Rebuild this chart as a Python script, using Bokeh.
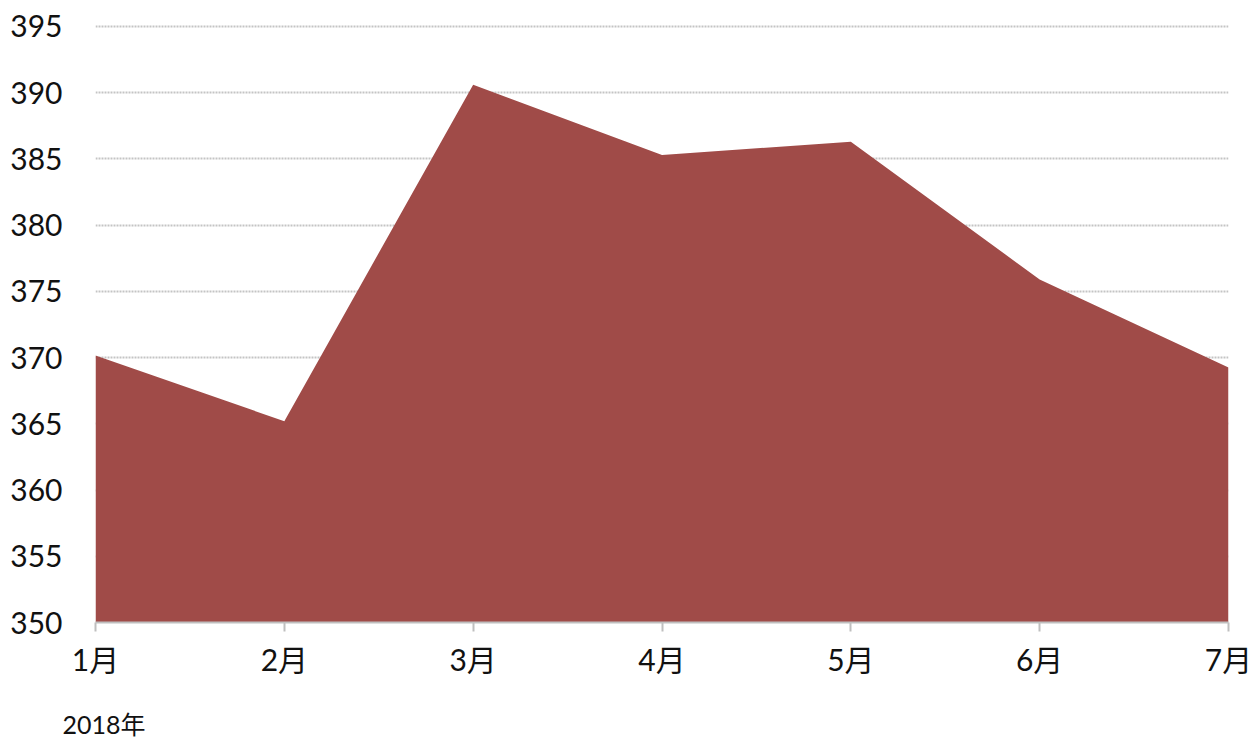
from bokeh.plotting import figure
from bokeh.models import Range1d, FixedTicker, LinearAxis
from bokeh.embed import file_html
from bokeh.resources import INLINE

# Monthly series, 2018
months = ["1月", "2月", "3月", "4月", "5月", "6月", "7月"]
values = [370.15, 365.2, 390.6, 385.3, 386.3, 375.9, 369.25]
y_ticks = [350, 355, 360, 365, 370, 375, 380, 385, 390, 395]
year_label = "2018年"

FONT = "Lato, 'Noto Sans CJK SC', sans-serif"
FILL = "#A04B48"

xs = list(range(len(months)))

p = figure(
    width=1254, height=741,
    x_range=Range1d(0, len(months) - 1),
    # a little headroom so the top grid line stays inside the frame
    y_range=Range1d(y_ticks[0], y_ticks[-1] + 0.15),
    output_backend="svg", toolbar_location=None,
    min_border_left=95, min_border_right=26,
    min_border_top=24, min_border_bottom=119,
)
p.outline_line_color = None
p.background_fill_color = "white"
p.border_fill_color = "white"

# filled area from the baseline up to the series
p.varea(x=xs, y1=y_ticks[0], y2=values, fill_color=FILL, fill_alpha=1.0)

# x axis: month labels
xa = p.xaxis[0]
xa.ticker = FixedTicker(ticks=xs)
xa.major_label_overrides = {i: m for i, m in enumerate(months)}
xa.axis_line_color = "#bfbfbf"
xa.axis_line_width = 2
xa.major_tick_line_color = "#bfbfbf"
xa.major_tick_line_width = 2
xa.major_tick_out = 9
xa.major_tick_in = 0
xa.minor_tick_line_color = None
xa.major_label_text_font = FONT
xa.major_label_text_font_size = "30px"
xa.major_label_text_color = "#111111"
xa.major_label_standoff = 9

# second, bare axis underneath carrying the year note at the bottom left
year_pos = 0.045
year_axis = LinearAxis(
    ticker=FixedTicker(ticks=[year_pos]),
    major_label_overrides={year_pos: year_label},
    axis_line_color=None, major_tick_line_color=None,
    minor_tick_line_color=None, major_tick_out=0, major_tick_in=0,
    major_label_text_font=FONT, major_label_text_font_size="25px",
    major_label_text_color="#111111", major_label_standoff=29,
)
p.add_layout(year_axis, "below")

# y axis: labels only
ya = p.yaxis[0]
ya.ticker = FixedTicker(ticks=y_ticks)
ya.axis_line_color = None
ya.major_tick_line_color = None
ya.minor_tick_line_color = None
ya.major_label_text_font = FONT
ya.major_label_text_font_size = "30px"
ya.major_label_text_color = "#111111"
ya.major_label_standoff = 27

# dotted horizontal grid
p.xgrid.grid_line_color = None
p.ygrid.ticker = FixedTicker(ticks=y_ticks)
p.ygrid.grid_line_color = "#c4c4c4"
p.ygrid.grid_line_width = 2
p.ygrid.grid_line_dash = "2 1"
p.ygrid.level = "underlay"

open("out.html", "w").write(file_html(p, INLINE))
